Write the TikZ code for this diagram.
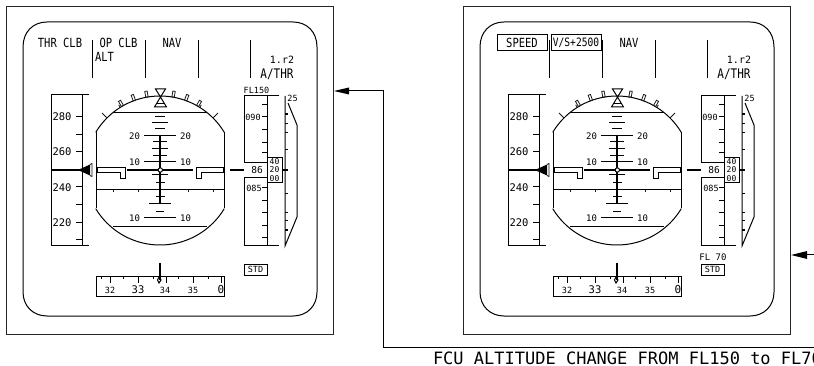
\documentclass[tikz,border=0pt]{standalone}
\usepackage{graphicx}
\usepackage{fontspec}
\setmainfont{DejaVu Sans Mono}
\newcount\tcnt
\tikzset{
  ln/.style={line width=1pt,black},
  thk/.style={line width=2.2pt,black},
  thn/.style={line width=0.8pt,black!90},
  lab/.style={inner sep=0pt,outer sep=0pt,anchor=center,text=black},
}
% #1 x, #2 y, #3 size, #4 text
\newcommand{\txt}[4]{\global\advance\tcnt by 1\relax
  \node[lab,font=\fontsize{#3}{#3}\selectfont] (t\the\tcnt) at (#1,#2) {#4};}
% taller, as the mode annunciations are
\newcommand{\ttxt}[4]{\txt{#1}{#2}{#3}{\scalebox{1}[1.2]{#4}}}
\newcommand{\tick}[3]{\draw[ln] (#1,#3) -- (#2,#3);}
\newcommand{\pfdcommon}{%
  % frames
  \draw[line width=1pt,black!85] (6,7) rectangle (333,334);
  \draw[ln] (47,22) -- (293,22) .. controls (307,22) and (317,32) .. (317,47)
     -- (317,292) .. controls (317,306) and (307,316) .. (293,316)
     -- (47,316) .. controls (33,316) and (23,306) .. (23,292)
     -- (23,47) .. controls (23,32) and (33,22) .. (47,22);
  % speed tape
  \draw[ln] (89,95) -- (51,95) -- (51,246) -- (89,246);
  \draw[ln] (82,95) -- (82,246);
  \foreach \y in {117,135,152,187,205,223,240} {\tick{76}{82}{\y}}
  \txt{62}{117}{10.5}{280}
  \txt{62}{152}{10.5}{260}
  \txt{62}{187.5}{10.5}{240}
  \txt{62}{223}{10.5}{220}
  % attitude sphere
  \draw[ln] plot[domain=31:149,samples=50] ({160+75*cos(\x)},{171-75*sin(\x)});
  \draw[ln] plot[domain=31:149,samples=50] ({160+75*cos(\x)},{170+75*sin(\x)});
  \draw[ln] (96,132) -- (96,208) (224,132) -- (224,208);
  \draw[ln] (113,113) -- (207,113);
  \draw[ln] (113,227) -- (207,227);
  \draw[ln] (96,190) -- (224,190);
  \foreach \x in {113,138,188,213} {\draw[thn] (\x,190) -- (\x,192);}
  % bank scale
  \foreach \a in {60,70,80,100,110,120} {
    \draw[thn,rotate around={90-\a:(160,171)}] (158.8,96) rectangle (161.2,90);
  }
  \foreach \a in {45,135,58,122} {
    \draw[thn] ({160+75*cos(\a)},{171-75*sin(\a)}) -- ({160+(\a==45||\a==135?82:78)*cos(\a)},{171-(\a==45||\a==135?82:78)*sin(\a)});
  }
  % sky pointer
  \draw[ln] (155.5,89) -- (165.5,89) -- (160.5,97) -- cycle;
  \draw[ln] (160.5,97) -- (154.5,107) -- (166.5,107) -- cycle;
  \draw[ln] (156.5,104) -- (164.5,104);
  % pitch ladder
  \draw[line width=1.8pt] (160,136) -- (160,204);
  \foreach \y/\a/\b in {117/155/165,123/152/168,129/155/165,142/153/167,149/152/168,156/153/167,175/152/168,183/156/165,197/156/165,204/149/171,212/156/164} {\tick{\a}{\b}{\y}}
  \draw[ln] (144,136) -- (176,136) (144,162) -- (176,162) (144,218) -- (176,218);
  \txt{134.5}{136}{9}{20}\txt{185.5}{136}{9}{20}
  \txt{134.5}{162}{9}{10}\txt{185.5}{162}{9}{10}
  \txt{134.5}{218}{9}{10}\txt{185.5}{218}{9}{10}
  % aircraft symbol
  \draw[thk] (127,170) -- (193,170);
  \draw[ln,fill=white] (160.3,170) circle (2.2);
  \draw[ln,fill=white] (97,168) -- (125,168) -- (125,179) -- (120,179) -- (120,173) -- (97,173) -- cycle;
  \draw[ln,fill=white] (223,168) -- (196,168) -- (196,179) -- (201,179) -- (201,173) -- (223,173) -- cycle;
  % speed index
  \draw[thk] (51,170) -- (82,170);
  \fill[black] (78,170) -- (90,164.5) -- (90,175.5) -- cycle;
  \draw[thn] (90,164.5) -- (92,163.5) -- (92,176.5) -- (90,175.5);
  % FMA
  \foreach \x in {92.7,145,198,250} {\draw[ln] (\x,40) -- (\x,78);}
  \ttxt{172}{43}{10.5}{NAV}
  \ttxt{277}{74}{11}{A/THR}
  \txt{282}{60}{10}{1.r2}
  % altitude
  \draw[ln] (279,96) -- (244,96) -- (244,163) -- (267,163) (267,96) -- (267,183) -- (282,183) -- (282,158) -- (267,158);
  \draw[ln] (267,178) -- (244,178) -- (244,246) -- (279,246) (267,178) -- (267,246);
  \foreach \y in {105,117,130,143,153,188,201,213,226,238} {\tick{262}{267}{\y}}
  \draw[thk] (230,170) -- (244,170);
  \txt{253}{117}{8.5}{090}
  \txt{254}{188}{8.5}{085}
  \txt{257}{170}{9.5}{86}
  \txt{274.5}{161.5}{8}{40}
  \txt{274.5}{170}{8}{20}
  \txt{274.5}{179}{8}{00}
  % V/S scale
  \draw[ln] (285,96) -- (285,246) -- (297,217) -- (297,125) -- (288,103);
  \foreach \y in {124,133,150,194,213,221} {\tick{285}{288}{\y}}
  \draw[thk] (285,114) -- (288,114) (283,170) -- (288,170) (285,230) -- (288,230);
  \txt{292.5}{98.5}{8.5}{25}
  % STD
  \draw[ln] (244,264) rectangle (267,275);
  \txt{255.5}{269.5}{8.5}{STD}
  % heading
  \draw[ln] (96,276) -- (96,296) -- (224,296) -- (224,276) -- cycle;
  \foreach \x in {110,138,166,193,221} {\draw[ln] (\x,276) -- (\x,283);}
  \foreach \x in {101,123,153,178,208} {\draw[ln] (\x,276) -- (\x,279);}
  \txt{110}{290}{8.5}{32}
  \txt{138}{290}{10.5}{33}
  \txt{165}{290}{8.5}{34}
  \txt{193}{290}{8.5}{35}
  \txt{221}{289.5}{11}{0}
  \draw[thk] (160,263) -- (160,280);
  \draw[ln] (159,277) -- (161,280) -- (159,283) -- (157.5,280) -- cycle;
}
\begin{document}
\begin{tikzpicture}[x=1pt,y=-1pt]
\useasboundingbox (0,0) rectangle (814,366);
\clip (0,0) rectangle (814,366);
\fill[white] (0,0) rectangle (814,366);
\begin{scope}
  \pfdcommon
  \ttxt{60}{43}{10.5}{THR CLB}
  \ttxt{118.5}{43}{10.5}{OP CLB}
  \ttxt{104.5}{57}{10.5}{ALT}
  \txt{256.5}{90}{8.5}{FL150}
\end{scope}
\begin{scope}[xshift=457pt]
  \pfdcommon
  \draw[ln] (40,35) rectangle (90,51);
  \draw[ln] (94,35) rectangle (144,51);
  \ttxt{65}{43}{10.5}{SPEED}
  \ttxt{119}{43}{9.6}{V/S+2500}
  \txt{256}{257}{9}{FL 70}
\end{scope}
\coordinate (inA) at (334,91);
\coordinate (bendA) at (383,91);
\coordinate (bendB) at (383,347);
\coordinate (endB) at (814,347);
\coordinate (inB) at (791,255);
\coordinate (endC) at (814,255);
\draw[ln] (endB) -- (bendB) -- (bendA) -- (349,91);
\fill (inA) -- (349,87.5) -- (349,94.5) -- cycle;
\draw[ln] (endC) -- (806,255);
\fill (inB) -- (807,251) -- (807,259) -- cycle;
\node[lab,anchor=west,font=\fontsize{17}{17}\selectfont] (caption) at (433,358) {FCU ALTITUDE CHANGE FROM FL150 to FL70};
\end{tikzpicture}
\end{document}
